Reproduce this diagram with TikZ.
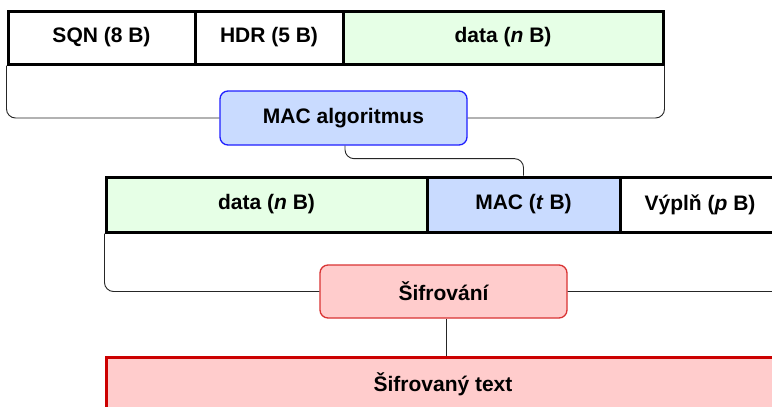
\documentclass[tikz,border=0pt]{standalone}
\usepackage{fontspec}
\setmainfont{Liberation Sans}
\definecolor{greenfill}{HTML}{E6FFE6}
\definecolor{bluefill}{HTML}{C9DBFF}
\definecolor{blueline}{HTML}{1F1FFF}
\definecolor{pinkfill}{HTML}{FFCCCC}
\definecolor{redline}{HTML}{D93333}
\definecolor{darkred}{HTML}{CC0000}
\begin{document}
\begin{tikzpicture}[x=1pt,y=-1pt,
  every node/.style={font=\fontsize{21}{24}\selectfont\bfseries, inner sep=0pt, align=center},
  field/.style={draw=black, line width=3pt, rectangle, minimum height=53pt},
  proc/.style={rectangle, rounded corners=8pt, line width=1.3pt, minimum width=247pt, minimum height=54pt},
  conn/.style={draw=black!85, line width=0.9pt, rounded corners=9pt}]
\clip (0,0) rectangle (772,407);
\fill[white] (0,0) rectangle (772,407);
% top row
\node[field, fill=white, minimum width=187pt] (sqn) at (101.5,37.5) {SQN (8 B)};
\node[field, fill=white, minimum width=148pt] (hdr) at (269,37.5) {HDR (5 B)};
\node[field, fill=greenfill, minimum width=320pt] (data1) at (503,37.5) {data (\textit{n} B)};
% MAC algorithm
\node[proc, fill=bluefill, draw=blueline] (macalg) at (343.5,118) {MAC algoritmus};
% middle row
\node[field, fill=greenfill, minimum width=321pt, minimum height=55pt] (data2) at (266.5,204.5) {data (\textit{n} B)};
\node[field, fill=bluefill, minimum width=193pt, minimum height=55pt] (mact) at (523.5,204.5) {MAC (\textit{t} B)};
\node[field, fill=white, minimum width=160pt, minimum height=55pt] (vypln) at (700,204.5) {Výplň (\textit{p} B)};
% encryption
\node[proc, fill=pinkfill, draw=redline, minimum height=53pt] (sifr) at (443.5,291.5) {Šifrování};
% ciphertext
\node[draw=darkred, fill=pinkfill, line width=3pt, rectangle, minimum width=684pt, minimum height=60pt] (ct) at (448,387) {};
\node (cttext) at (443,384) {Šifrovaný text};
% connectors
\draw[conn] (sqn.south west) |- (macalg.west);
\draw[conn] (data1.south east) |- (macalg.east);
\draw[conn] (macalg.south) ++(1.5,0) -- ++(0,13) -| (mact.north);
\draw[conn] (data2.south west) |- (sifr.west);
\draw[conn] (vypln.south east) |- (sifr.east);
\draw[conn] (sifr.south) ++(2.5,0) -- (ct.north -| {446,0});
\end{tikzpicture}
\end{document}
